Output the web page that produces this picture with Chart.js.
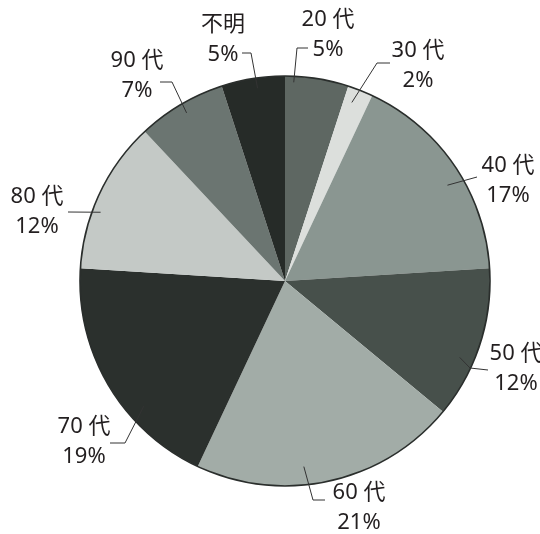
<!DOCTYPE html>
<html lang="ja">
<head>
<meta charset="utf-8">
<title>年代別割合</title>
<script src="https://cdn.jsdelivr.net/npm/chart.js@4"></script>
<style>
  html, body { margin: 0; padding: 0; background: #fff; }
  #wrap { width: 540px; height: 534px; position: relative; }
</style>
</head>
<body>
<div id="wrap"><canvas id="agePie" width="540" height="534"></canvas></div>
<script>
/* age-group shares, clockwise from 12 o'clock */
var categories = ["20 代", "30 代", "40 代", "50 代", "60 代", "70 代", "80 代", "90 代", "不明"];
var shares = [5, 2, 17, 12, 21, 19, 12, 7, 5];
var sliceColors = ["#5e6762", "#dcdfdc", "#8a9691", "#47504b", "#a2aca7", "#2b302d", "#c4c9c6", "#6b7571", "#262b28"];

/* label layout: text centre (first line), leader start inside slice
   (fraction of the slice's sweep, fraction of radius), optional elbow, end */
var labelLayout = [
  { x: 328, y: 20,  f: 0.14, rf: 0.97, elbow: [297, 48],  end: [308, 48] },
  { x: 418, y: 51,  f: 0.35, rf: 0.93, elbow: [377, 63],  end: [390, 63] },
  { x: 508, y: 166, f: 0.56, rf: 0.92, elbow: null,       end: [477, 177] },
  { x: 516, y: 354, f: 0.63, rf: 0.93, elbow: [470, 368], end: [488, 370] },
  { x: 359, y: 493, f: 0.59, rf: 0.91, elbow: [313, 500], end: [325, 500] },
  { x: 84,  y: 427, f: 0.34, rf: 0.92, elbow: [125, 443], end: [110, 443] },
  { x: 37,  y: 197, f: 0.39, rf: 0.96, elbow: null,       end: [68, 212] },
  { x: 137, y: 61,  f: 0.51, rf: 0.95, elbow: [172, 82],  end: [160, 82] },
  { x: 223, y: 25,  f: 0.55, rf: 0.95, elbow: [251, 53],  end: [242, 53] }
];

var LINE_GAP = 30;
var FONT = '22px "Noto Sans", "Noto Sans CJK JP", sans-serif';

/* outer rim + leader lines + two-line labels */
var pieLabels = {
  id: "pieLabels",
  afterDatasetsDraw: function (chart) {
    var ctx = chart.ctx;
    var arcs = chart.getDatasetMeta(0).data;
    if (!arcs.length) return;
    var cx = arcs[0].x, cy = arcs[0].y, r = arcs[0].outerRadius;

    ctx.save();
    ctx.beginPath();
    ctx.arc(cx, cy, r, 0, Math.PI * 2);
    ctx.lineWidth = 1.6;
    ctx.strokeStyle = "#2a2e2c";
    ctx.stroke();

    ctx.lineWidth = 1;
    ctx.strokeStyle = "#333";
    arcs.forEach(function (arc, i) {
      var L = labelLayout[i];
      var a = arc.startAngle + (arc.endAngle - arc.startAngle) * L.f;
      var px = cx + Math.cos(a) * r * L.rf;
      var py = cy + Math.sin(a) * r * L.rf;
      ctx.beginPath();
      ctx.moveTo(px, py);
      if (L.elbow) ctx.lineTo(L.elbow[0], L.elbow[1]);
      ctx.lineTo(L.end[0], L.end[1]);
      ctx.stroke();
    });

    ctx.font = FONT;
    ctx.fillStyle = "#231f20";
    ctx.textAlign = "center";
    ctx.textBaseline = "middle";
    arcs.forEach(function (arc, i) {
      var L = labelLayout[i];
      ctx.fillText(categories[i], L.x, L.y);
      ctx.fillText(shares[i] + "%", L.x, L.y + LINE_GAP);
    });
    ctx.restore();
  }
};

new Chart(document.getElementById("agePie").getContext("2d"), {
  type: "pie",
  data: {
    labels: categories,
    datasets: [{
      data: shares,
      backgroundColor: sliceColors,
      borderWidth: 0
    }]
  },
  options: {
    responsive: false,
    animation: false,
    layout: { padding: { left: 80, right: 50, top: 76, bottom: 48 } },
    plugins: {
      legend: { display: false },
      tooltip: { enabled: false }
    }
  },
  plugins: [pieLabels]
});
</script>
</body>
</html>
